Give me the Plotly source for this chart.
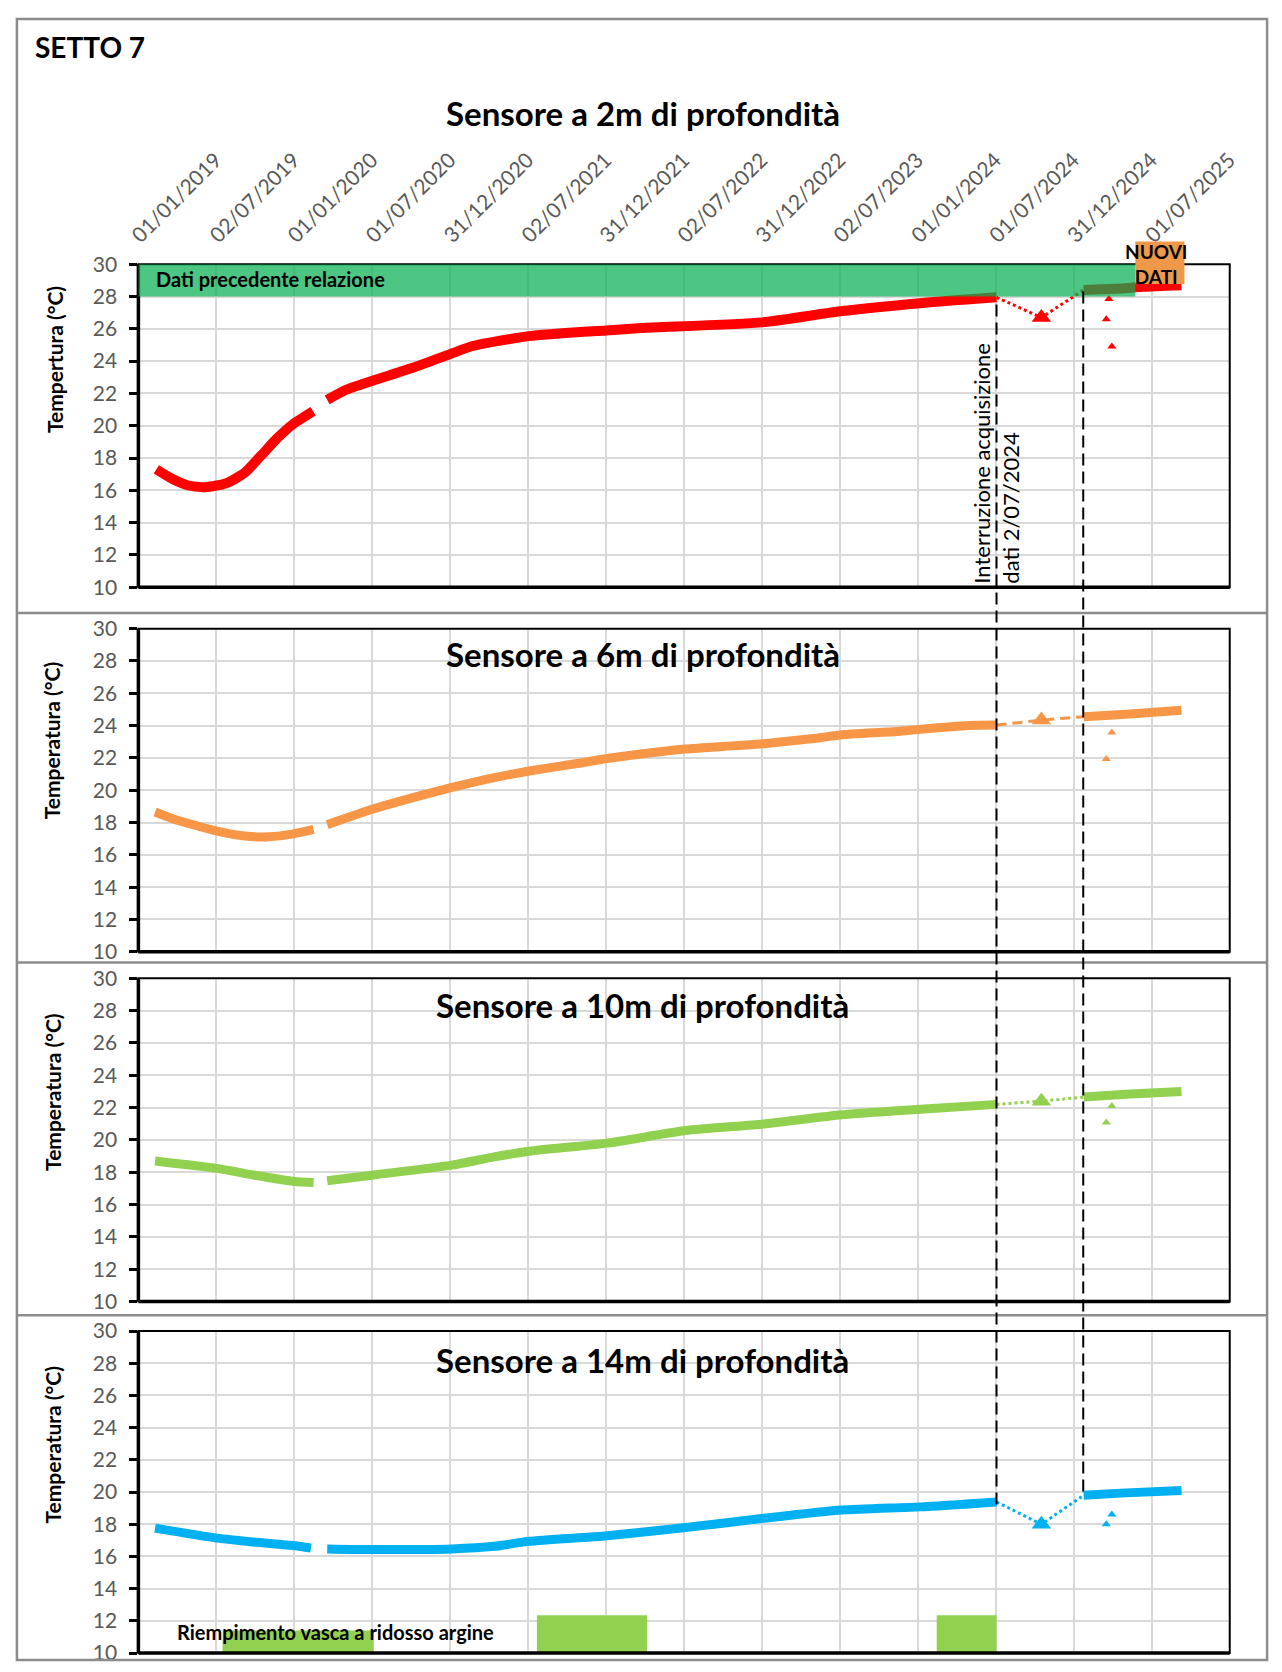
import pandas as pd
import plotly.graph_objects as go

W, H = 1282, 1672

# ---------------------------------------------------------------- axis labels
# the last tick sits on the right edge of the sheet, so its label is left blank
x_tick_labels = ["01/01/2019", "02/07/2019", "01/01/2020", "01/07/2020", "31/12/2020",
                 "02/07/2021", "31/12/2021", "02/07/2022", "31/12/2022", "02/07/2023",
                 "01/01/2024", "01/07/2024", "31/12/2024", "01/07/2025", ""]
y_ticks = [10, 12, 14, 16, 18, 20, 22, 24, 26, 28, 30]

panel_titles = ["Sensore a 2m di profondità", "Sensore a 6m di profondità",
                "Sensore a 10m di profondità", "Sensore a 14m di profondità"]
y_titles = ["Tempertura (°C)", "Temperatura (°C)", "Temperatura (°C)", "Temperatura (°C)"]
colors = ["#FF0000", "#F79646", "#92D050", "#00B0F0"]
connector_dash = ["dot", "10px,6px", "dot", "dot"]

# ---------------------------------------------------------------- sensor 2 m
s2_a_dates = ["2019-02-12", "2019-03-22", "2019-04-28", "2019-06-05", "2019-07-03", "2019-07-31",
              "2019-09-07", "2019-10-15", "2019-11-21", "2019-12-29", "2020-02-14"]
s2_a_vals = [17.3, 16.7, 16.3, 16.2, 16.3, 16.5, 17.1, 18.15, 19.2, 20.1, 20.9]
s2_b_dates = ["2020-03-18", "2020-04-29", "2020-07-04", "2020-10-06", "2021-01-01", "2021-02-24",
              "2021-07-04", "2021-12-31", "2022-03-24", "2022-12-31", "2023-07-07", "2024-01-11",
              "2024-07-02"]
s2_b_vals = [21.6, 22.2, 22.8, 23.6, 24.45, 24.95, 25.55, 25.9, 26.05, 26.4, 27.1, 27.6, 27.95]
s2_gap_dates = ["2024-07-02", "2024-10-15", "2025-01-22"]
s2_gap_vals = [27.95, 26.7, 28.4]
s2_new_dates = ["2025-01-22", "2025-03-05", "2025-04-20", "2025-06-10", "2025-09-08"]
s2_new_vals = [28.4, 28.45, 28.5, 28.6, 28.7]
s2_out_dates = ["2025-03-16", "2025-03-29", "2025-03-22"]
s2_out_vals = [26.6, 24.9, 27.85]

# ---------------------------------------------------------------- sensor 6 m
s6_a_dates = ["2019-02-09", "2019-03-22", "2019-05-18", "2019-07-04", "2019-09-08", "2019-11-03",
              "2019-12-30", "2020-02-15"]
s6_a_vals = [18.65, 18.24, 17.8, 17.47, 17.16, 17.12, 17.3, 17.57]
s6_b_dates = ["2020-03-18", "2020-07-05", "2020-10-07", "2021-01-04", "2021-04-13", "2021-07-04",
              "2021-10-20", "2022-01-02", "2022-04-25", "2022-07-05", "2022-10-30", "2023-01-04",
              "2023-05-06", "2023-07-06", "2023-11-11", "2024-01-06", "2024-04-28", "2024-07-02"]
s6_b_vals = [17.87, 18.85, 19.56, 20.17, 20.78, 21.19, 21.64, 21.96, 22.35, 22.55, 22.76, 22.88,
             23.22, 23.43, 23.63, 23.77, 24.0, 24.03]
s6_gap_dates = ["2024-07-02", "2024-10-15", "2025-01-22"]
s6_gap_vals = [24.03, 24.34, 24.55]
s6_new_dates = ["2025-01-22", "2025-05-01", "2025-09-08"]
s6_new_vals = [24.55, 24.7, 24.95]
s6_out_dates = ["2025-03-29", "2025-03-16"]
s6_out_vals = [23.57, 21.94]

# ---------------------------------------------------------------- sensor 10 m
s10_a_dates = ["2019-02-09", "2019-07-04", "2019-09-27", "2020-01-02", "2020-02-15"]
s10_a_vals = [18.7, 18.24, 17.83, 17.43, 17.37]
s10_b_dates = ["2020-03-18", "2020-07-05", "2021-01-04", "2021-04-13", "2021-07-04", "2022-01-02",
               "2022-07-05", "2023-01-04", "2023-07-06", "2024-01-06", "2024-07-02"]
s10_b_vals = [17.47, 17.83, 18.44, 18.95, 19.3, 19.8, 20.58, 20.99, 21.56, 21.9, 22.2]
s10_gap_dates = ["2024-07-02", "2024-10-15", "2025-01-22"]
s10_gap_vals = [22.2, 22.4, 22.65]
s10_new_dates = ["2025-01-22", "2025-05-01", "2025-09-08"]
s10_new_vals = [22.65, 22.82, 23.0]
s10_out_dates = ["2025-03-29", "2025-03-16"]
s10_out_vals = [22.1, 21.08]

# ---------------------------------------------------------------- sensor 14 m
s14_a_dates = ["2019-02-09", "2019-07-04", "2019-09-27", "2020-01-02", "2020-02-09"]
s14_a_vals = [17.76, 17.14, 16.9, 16.67, 16.53]
s14_b_dates = ["2020-03-18", "2020-07-05", "2021-01-04", "2021-04-13", "2021-07-04", "2022-01-02",
               "2022-07-05", "2023-01-04", "2023-07-06", "2024-01-06", "2024-07-02"]
s14_b_vals = [16.47, 16.43, 16.47, 16.63, 16.94, 17.29, 17.8, 18.37, 18.88, 19.08, 19.39]
s14_gap_dates = ["2024-07-02", "2024-10-15", "2025-01-22"]
s14_gap_vals = [19.39, 18.0, 19.8]
s14_new_dates = ["2025-01-22", "2025-05-01", "2025-09-08"]
s14_new_vals = [19.8, 19.95, 20.1]
s14_out_dates = ["2025-03-29", "2025-03-16"]
s14_out_vals = [18.6, 18.0]

# ---------------------------------------------------------------- events
fill_start = ["2019-07-17", "2021-07-22", "2024-02-13"]
fill_end = ["2020-07-05", "2022-04-06", "2024-07-02"]
fill_top = [11.4, 12.35, 12.35]
previous_report_end = "2025-05-23"
new_data_box = ["2025-05-23", "2025-09-15"]
stop_date = "2024-07-02"
restart_date = "2025-01-21"

sensors = [
    (s2_a_dates, s2_a_vals, s2_b_dates, s2_b_vals, s2_gap_dates, s2_gap_vals,
     s2_new_dates, s2_new_vals, s2_out_dates, s2_out_vals),
    (s6_a_dates, s6_a_vals, s6_b_dates, s6_b_vals, s6_gap_dates, s6_gap_vals,
     s6_new_dates, s6_new_vals, s6_out_dates, s6_out_vals),
    (s10_a_dates, s10_a_vals, s10_b_dates, s10_b_vals, s10_gap_dates, s10_gap_vals,
     s10_new_dates, s10_new_vals, s10_out_dates, s10_out_vals),
    (s14_a_dates, s14_a_vals, s14_b_dates, s14_b_vals, s14_gap_dates, s14_gap_vals,
     s14_new_dates, s14_new_vals, s14_out_dates, s14_out_vals),
]

# ---------------------------------------------------------------- geometry helpers
def px(x):
    return x / W


def py(y):
    return 1 - y / H


tick_start = pd.Timestamp("2019-01-01")
tick_vals = [tick_start + pd.Timedelta(days=182.5 * i) for i in range(len(x_tick_labels))]
x_range = [tick_vals[0], tick_vals[-1]]

X_DOM = [px(128.6), px(1239)]
panel_px = [(254, 582), (624, 952), (979, 1307), (1337, 1664)]
Y_DOMS = [[py(b), py(t)] for t, b in panel_px]

FONT = "Lato"
TICK_GREY = "#595959"

fig = go.Figure()

for i, (a_d, a_v, b_d, b_v, g_d, g_v, n_d, n_v, o_d, o_v) in enumerate(sensors):
    xr, yr = f"x{i + 1}", f"y{i + 1}"
    c = colors[i]
    band = 10 if i == 0 else 9
    fig.add_trace(go.Scatter(x=a_d + [None] + b_d, y=a_v + [None] + b_v, mode="lines",
                             line=dict(color=c, width=band, shape="spline", smoothing=0.6),
                             xaxis=xr, yaxis=yr, showlegend=False, hoverinfo="skip"))
    fig.add_trace(go.Scatter(x=g_d, y=g_v, mode="lines",
                             line=dict(color=c, width=3, dash=connector_dash[i]),
                             xaxis=xr, yaxis=yr, showlegend=False, hoverinfo="skip"))
    fig.add_trace(go.Scatter(x=[g_d[1]], y=[g_v[1]], mode="markers",
                             marker=dict(symbol="triangle-up", size=17, color=c),
                             xaxis=xr, yaxis=yr, showlegend=False, hoverinfo="skip"))
    fig.add_trace(go.Scatter(x=n_d, y=n_v, mode="lines",
                             line=dict(color=c, width=band, shape="spline", smoothing=0.6),
                             xaxis=xr, yaxis=yr, showlegend=False, hoverinfo="skip"))
    fig.add_trace(go.Scatter(x=o_d, y=o_v, mode="markers",
                             marker=dict(symbol="triangle-up", size=8, color=c),
                             xaxis=xr, yaxis=yr, showlegend=False, hoverinfo="skip"))

layout = dict(width=W, height=H, margin=dict(l=0, r=0, t=0, b=0),
              paper_bgcolor="white", plot_bgcolor="white", showlegend=False)

for i in range(4):
    xa = dict(domain=X_DOM, anchor=f"y{i + 1}", type="date", range=x_range,
              tickvals=tick_vals, ticktext=x_tick_labels, showgrid=True,
              gridcolor="#D9D9D9", gridwidth=1.5, zeroline=False, showline=False,
              ticks="", showticklabels=(i == 0), fixedrange=True)
    if i == 0:
        xa.update(side="top", tickangle=-45, ticklabelstandoff=12, ticklabelshift=-5,
                  tickfont=dict(family=FONT, size=21, color=TICK_GREY))
    else:
        xa.update(matches="x")
    ya = dict(domain=Y_DOMS[i], anchor=f"x{i + 1}", range=[10, 30], tickvals=y_ticks,
              showgrid=True, gridcolor="#D9D9D9", gridwidth=1.5, zeroline=False,
              showline=False, ticks="outside", ticklen=8, tickwidth=3, tickcolor="black",
              ticklabelstandoff=8, tickfont=dict(family=FONT, size=21, color=TICK_GREY),
              fixedrange=True)
    layout["xaxis" if i == 0 else f"xaxis{i + 1}"] = xa
    layout["yaxis" if i == 0 else f"yaxis{i + 1}"] = ya

shapes = []
# outer sheet border and panel separators
shapes.append(dict(type="rect", xref="paper", yref="paper", x0=px(5), x1=px(1277),
                   y0=py(1671), y1=py(5), line=dict(color="#8C8C8C", width=2.5),
                   layer="above"))
for ysep in (608, 963, 1321):
    shapes.append(dict(type="line", xref="paper", yref="paper", x0=px(5), x1=px(1277),
                       y0=py(ysep), y1=py(ysep), line=dict(color="#8C8C8C", width=2.5),
                       layer="above"))

# basin filling periods (bottom panel)
for s, e, top in zip(fill_start, fill_end, fill_top):
    shapes.append(dict(type="rect", xref="x4", yref="y4", x0=s, x1=e, y0=10, y1=top,
                       fillcolor="#92D050", line=dict(width=0), layer="above"))

# plot frames: thin box, thick left and bottom axis lines
for i in range(4):
    xd, yd = f"x{i + 1} domain" if i else "x domain", f"y{i + 1} domain" if i else "y domain"
    shapes.append(dict(type="rect", xref=xd, yref=yd, x0=0, x1=1, y0=0, y1=1,
                       line=dict(color="black", width=2), layer="above"))
    shapes.append(dict(type="line", xref=xd, yref=yd, x0=0, x1=0, y0=0, y1=1,
                       line=dict(color="black", width=3.5), layer="above"))
    shapes.append(dict(type="line", xref=xd, yref=yd, x0=0, x1=1, y0=0, y1=0,
                       line=dict(color="black", width=3.5), layer="above"))

# previous report band (semi-transparent, over the data)
shapes.append(dict(type="rect", xref="x", yref="y", x0=x_range[0], x1=previous_report_end,
                   y0=28, y1=30, fillcolor="rgba(8,174,83,0.72)", line=dict(width=0),
                   layer="above"))
# new data label box
shapes.append(dict(type="rect", xref="x", yref="paper", x0=new_data_box[0], x1=new_data_box[1],
                   y0=py(274), y1=py(231), fillcolor="#F0984A", line=dict(width=0),
                   layer="above"))
# acquisition stop / restart markers spanning the panels
shapes.append(dict(type="line", xref="x", yref="paper", x0=stop_date, x1=stop_date,
                   y0=py(1513), y1=py(289), line=dict(color="black", width=2, dash="12px,6px"),
                   layer="above"))
shapes.append(dict(type="line", xref="x", yref="paper", x0=restart_date, x1=restart_date,
                   y0=py(1500), y1=py(277), line=dict(color="black", width=2, dash="12px,6px"),
                   layer="above"))
layout["shapes"] = shapes

ann = []
ann.append(dict(text="<b>SETTO 7</b>", xref="paper", yref="paper", x=px(21), y=py(33),
                xanchor="left", yanchor="middle", showarrow=False,
                font=dict(family=FONT, size=28, color="black")))
title_y = [100, 650, 1006, 1366]
for t, yy in zip(panel_titles, title_y):
    ann.append(dict(text=f"<b>{t}</b>", xref="paper", yref="paper", x=px(642), y=py(yy),
                    xanchor="center", yanchor="middle", showarrow=False,
                    font=dict(family=FONT, size=33, color="black")))
ytitle_x = [44, 41, 41, 41]
ytitle_y = [351, 738, 1095, 1453]
for t, xx, yy in zip(y_titles, ytitle_x, ytitle_y):
    ann.append(dict(text=f"<b>{t}</b>", xref="paper", yref="paper", x=px(xx), y=py(yy),
                    xanchor="center", yanchor="middle", textangle=-90, showarrow=False,
                    font=dict(family=FONT, size=21, color="black")))
ann.append(dict(text="<b>Dati precedente relazione</b>", xref="paper", yref="paper",
                x=px(144), y=py(269), xanchor="left", yanchor="middle", showarrow=False,
                font=dict(family=FONT, size=20, color="black")))
ann.append(dict(text="<b>NUOVI</b><br><b>DATI</b>", xref="paper", yref="paper",
                x=px(1164), y=py(254), xanchor="center", yanchor="middle", showarrow=False,
                font=dict(family=FONT, size=19, color="black")))
ann.append(dict(text="Interruzione acquisizione<br>dati 2/07/2024", xref="paper", yref="paper",
                x=px(1001), y=py(580), xanchor="center", yanchor="bottom", textangle=-90,
                align="left", showarrow=False, font=dict(family=FONT, size=22, color="black")))
ann.append(dict(text="<b>Riempimento vasca a ridosso argine</b>", xref="paper", yref="paper",
                x=px(166), y=py(1643), xanchor="left", yanchor="middle", showarrow=False,
                font=dict(family=FONT, size=20, color="black")))
layout["annotations"] = ann

fig.update_layout(**layout)
fig.write_html("out.html")
